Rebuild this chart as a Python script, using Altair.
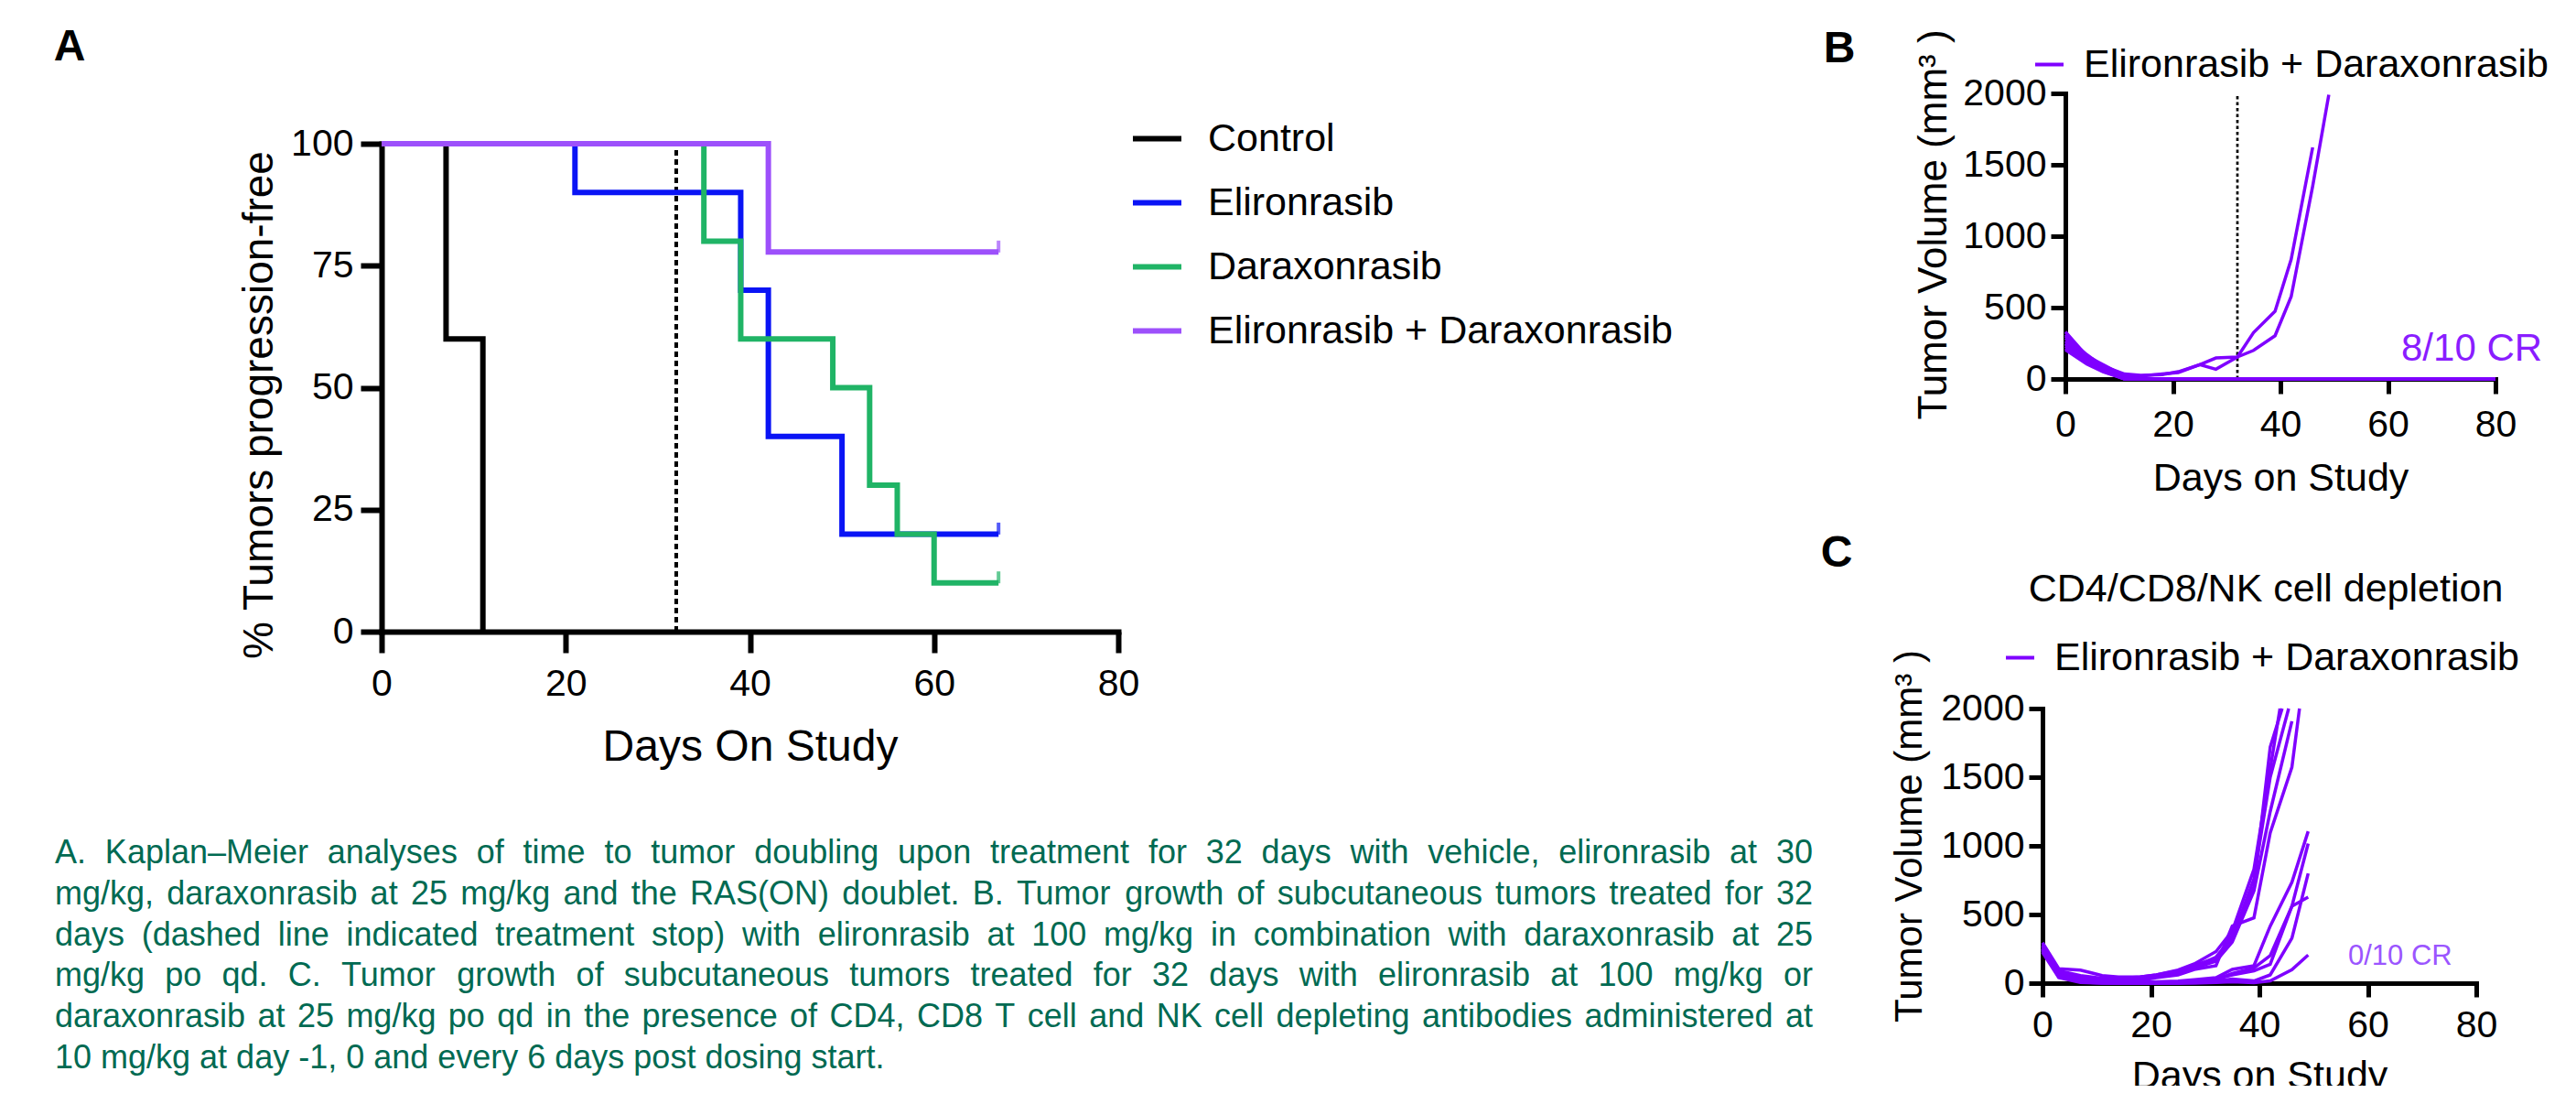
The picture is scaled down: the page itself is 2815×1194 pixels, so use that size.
import altair as alt
import pandas as pd

# ------------------------------------------------------------------
# canvas geometry (page has an 8px margin)
W, H = 2799, 1178
OX, OY = 8, 8
FONT = "Liberation Sans"

# ------------------------------------------------------------------
# Panel A : Kaplan-Meier (time to tumor doubling)
km_groups = ["Control", "Elironrasib", "Daraxonrasib", "Elironrasib + Daraxonrasib"]
km_colors = ["#000000", "#0a14f5", "#20b466", "#9d50fb"]
control_days = [0, 7, 11]
control_pct = [100, 60, 0]
eliron_days = [0, 21, 39, 42, 50, 67]
eliron_pct = [100, 90, 70, 40, 20, 20]
darax_days = [0, 35, 39, 49, 53, 56, 60, 67]
darax_pct = [100, 80, 60, 50, 30, 20, 10, 10]
combo_days = [0, 42, 67]
combo_pct = [100, 77.8, 77.8]
treatment_stop_day = 32
km_x_ticks = [0, 20, 40, 60, 80]
km_y_ticks = [0, 25, 50, 75, 100]

# ------------------------------------------------------------------
# Panel B : individual tumor volumes, combination
combo_name = "Elironrasib + Daraxonrasib"
b_days = [0, 4, 7, 11, 14, 18, 21, 25, 28, 32, 35, 39, 42, 46, 49, 56, 63, 70, 77, 80]
b_m1 = [300, 170, 90, 35, 25, 30, 51, 100, 147, 154, 325, 474, 838, 1622]
b_m2 = [250, 140, 70, 30, 20, 36, 45, 100, 68, 154, 200, 303, 577, 1350, 1990]
b_m3 = [330, 160, 100, 20, 0, 0, 0, 0, 0, 0, 0, 0, 0, 0, 0, 0, 0, 0, 0, 0]
b_m4 = [310, 155, 90, 15, 0, 0, 0, 0, 0, 0, 0, 0, 0, 0, 0, 0, 0, 0, 0, 0]
b_m5 = [285, 150, 80, 10, 0, 0, 0, 0, 0, 0, 0, 0, 0, 0, 0, 0, 0, 0, 0, 0]
b_m6 = [265, 140, 75, 5, 0, 0, 0, 0, 0, 0, 0, 0, 0, 0, 0, 0, 0, 0, 0, 0]
b_m7 = [245, 130, 70, 0, 0, 0, 0, 0, 0, 0, 0, 0, 0, 0, 0, 0, 0, 0, 0, 0]
b_m8 = [230, 120, 60, 0, 0, 0, 0, 0, 0, 0, 0, 0, 0, 0, 0, 0, 0, 0, 0, 0]
b_m9 = [215, 115, 55, 0, 0, 0, 0, 0, 0, 0, 0, 0, 0, 0, 0, 0, 0, 0, 0, 0]
b_m10 = [205, 105, 50, 0, 0, 0, 0, 0, 0, 0, 0, 0, 0, 0, 0, 0, 0, 0, 0, 0]
b_cr_label = "8/10 CR"

# ------------------------------------------------------------------
# Panel C : CD4/CD8/NK cell depletion
c_days = [0, 3, 7, 11, 14, 18, 21, 25, 28, 32, 35, 39, 42, 46, 49]
c_m1 = [295, 105, 95, 55, 45, 45, 60, 95, 140, 230, 380, 830, 1560]
c_m2 = [270, 70, 45, 30, 30, 40, 55, 80, 120, 190, 330, 760, 1500]
c_m3 = [250, 60, 25, 15, 20, 30, 45, 70, 110, 160, 300, 672, 1250, 1907]
c_m4 = [240, 55, 15, 5, 10, 20, 40, 60, 100, 127, 416, 476, 1095, 1573]
c_m5 = [280, 90, 55, 35, 35, 45, 60, 90, 130, 180, 350, 700, 1720]
c_m6 = [260, 80, 45, 25, 15, 10, 10, 15, 25, 40, 100, 127, 416, 734, 1106]
c_m7 = [235, 50, 15, 5, 0, 0, 0, 5, 10, 25, 70, 110, 200, 561, 1017]
c_m8 = [250, 45, 10, 0, 0, 0, 0, 0, 5, 15, 30, 16, 60, 327, 799]
c_m9 = [245, 60, 20, 5, 0, 0, 0, 0, 10, 30, 60, 90, 138, 561, 627]
c_m10 = [225, 40, 5, 0, 0, 0, 0, 0, 0, 5, 10, 4, 16, 98, 205]
# day at which a curve leaves the top of the 2000 mm3 axis
c_top_exit = {"m1": 43.8, "m2": 45.4, "m4": 47.4, "m5": 44.2}
c_cr_label = "0/10 CR"
c_title = "CD4/CD8/NK cell depletion"

vol_ticks = [0, 500, 1000, 1500, 2000]
day_ticks = [0, 20, 40, 60, 80]

caption_lines = [
    "A. Kaplan\u2013Meier analyses of time to tumor doubling upon treatment for 32 days with vehicle, elironrasib at 30",
    "mg/kg, daraxonrasib at 25 mg/kg and the RAS(ON) doublet. B. Tumor growth of subcutaneous tumors treated for 32",
    "days (dashed line indicated treatment stop) with elironrasib at 100 mg/kg in combination with daraxonrasib at 25",
    "mg/kg po qd. C. Tumor growth of subcutaneous tumors treated for 32 days with elironrasib at 100 mg/kg or",
    "daraxonrasib at 25 mg/kg po qd in the presence of CD4, CD8 T cell and NK cell depleting antibodies administered at",
    "10 mg/kg at day -1, 0 and every 6 days post dosing start.",
]
panel_labels = ["A", "B", "C"]

# ------------------------------------------------------------------
# tables
km_series = [(control_days, control_pct), (eliron_days, eliron_pct),
             (darax_days, darax_pct), (combo_days, combo_pct)]
km_rows = []
for g, (d, p) in zip(km_groups, km_series):
    for dd, pp in zip(d, p):
        km_rows.append({"group": g, "day": dd, "pct": pp})
km_df = pd.DataFrame(km_rows)
censor_df = pd.DataFrame([{"group": g, "day": d[-1], "pct": p[-1]}
                          for g, (d, p) in zip(km_groups, km_series) if p[-1] > 0])

b_rows = []
for name, vals in [("m1", b_m1), ("m2", b_m2), ("m3", b_m3), ("m4", b_m4), ("m5", b_m5),
                   ("m6", b_m6), ("m7", b_m7), ("m8", b_m8), ("m9", b_m9), ("m10", b_m10)]:
    for dd, v in zip(b_days, vals):
        b_rows.append({"mouse": name, "day": dd, "vol": v, "treatment": combo_name})
b_df = pd.DataFrame(b_rows)

c_rows = []
for name, vals in [("m1", c_m1), ("m2", c_m2), ("m3", c_m3), ("m4", c_m4), ("m5", c_m5),
                   ("m6", c_m6), ("m7", c_m7), ("m8", c_m8), ("m9", c_m9), ("m10", c_m10)]:
    for dd, v in zip(c_days, vals):
        c_rows.append({"mouse": name, "day": dd, "vol": v, "treatment": combo_name})
    if name in c_top_exit:
        c_rows.append({"mouse": name, "day": c_top_exit[name], "vol": 2000, "treatment": combo_name})
c_df = pd.DataFrame(c_rows)

# ------------------------------------------------------------------
# common axis style
def axis(orient, offset, values, title, tsize, tick, width, pad, tx=None, ty=None, fmt="d"):
    kw = dict(orient=orient, offset=offset, values=values, title=title, format=fmt,
              grid=False, labelFont=FONT, labelFontSize=41, labelColor="black",
              labelPadding=pad, labelFlush=False, labelOverlap=False,
              titleFont=FONT, titleFontSize=tsize, titleFontWeight="normal",
              titleColor="black", titleBaseline="alphabetic", titleAlign="center",
              tickSize=tick, tickWidth=width, tickColor="black",
              domainWidth=width, domainColor="black", domainCap="square")
    if tx is not None:
        kw["titleX"] = tx
    if ty is not None:
        kw["titleY"] = ty
    return alt.Axis(**kw)


def legend(x, y, size, offset, sym, symw, rowpad=0):
    return alt.Legend(orient="none", legendX=x - OX, legendY=y - OY, title=None, padding=0,
                      labelFont=FONT, labelFontSize=size, labelColor="black", labelOffset=offset,
                      symbolType="stroke", symbolSize=sym, symbolStrokeWidth=symw,
                      rowPadding=rowpad, labelLimit=0)

# ---------------- Panel A ----------------
def sx_a():
    return alt.Scale(domain=[0, 80], range=[417 - OX, 1222 - OX], nice=False, zero=False)


def sy_a():
    return alt.Scale(domain=[0, 100], range=[690 - OY, 157 - OY], nice=False)


def col_a():
    return alt.Scale(domain=km_groups, range=km_colors)


stop_a = alt.Chart(pd.DataFrame({"day": [treatment_stop_day], "lo": [0], "hi": [100]})).mark_rule(
    color="black", strokeWidth=4, strokeDash=[6, 4]).encode(
    x=alt.X("day:Q", scale=sx_a(), axis=None),
    y=alt.Y("lo:Q", scale=sy_a(), axis=None), y2="hi:Q")

km_lines = alt.Chart(km_df).mark_line(interpolate="step-after", strokeWidth=6).encode(
    x=alt.X("day:Q", scale=sx_a(),
            axis=axis("bottom", (690 - OY) - H, km_x_ticks, "Days On Study", 48, 23, 6, 14, ty=140)),
    y=alt.Y("pct:Q", scale=sy_a(),
            axis=axis("left", -(417 - OX), km_y_ticks, "% Tumors progression-free", 46, 23, 6, 8,
                      tx=-120, ty=442 - OY)),
    color=alt.Color("group:N", scale=col_a(), sort=km_groups,
                    legend=legend(1235, 122, 43, 26, 2809, 6, rowpad=18)),
)
censor_a = alt.Chart(censor_df).mark_tick(orient="vertical", size=13, thickness=4, yOffset=-6).encode(
    x=alt.X("day:Q", scale=sx_a(), axis=None),
    y=alt.Y("pct:Q", scale=sy_a(), axis=None),
    color=alt.Color("group:N", scale=col_a(), legend=None))

# ---------------- Panel B ----------------
def sx_b():
    return alt.Scale(domain=[0, 80], range=[2257 - OX, 2727 - OX], nice=False, zero=False)


def sy_b():
    return alt.Scale(domain=[0, 2000], range=[414 - OY, 102 - OY], nice=False)


purple = "#7f00ff"
stop_b = alt.Chart(pd.DataFrame({"day": [treatment_stop_day], "lo": [0], "hi": [2000]})).mark_rule(
    color="black", strokeWidth=2.7, strokeDash=[3.5, 3]).encode(
    x=alt.X("day:Q", scale=sx_b(), axis=None),
    y=alt.Y("lo:Q", scale=sy_b(), axis=None), y2="hi:Q")
lines_b = alt.Chart(b_df).mark_line(strokeWidth=3.5).encode(
    x=alt.X("day:Q", scale=sx_b(),
            axis=axis("bottom", (414 - OY) - H, day_ticks, "Days on Study", 43, 16, 5, 14, ty=121)),
    y=alt.Y("vol:Q", scale=sy_b(),
            axis=axis("left", -(2257 - OX), vol_ticks, "Tumor Volume (mm\u00b3 )", 44, 16, 5, 5,
                      tx=-131, ty=245 - OY)),
    color=alt.Color("treatment:N", scale=alt.Scale(domain=[combo_name], range=[purple]),
                    legend=legend(2218, 49, 43, 16, 961, 4)),
    detail="mouse:N",
)

# ---------------- Panel C ----------------
sx_c = alt.Scale(domain=[0, 80], range=[2232 - OX, 2706 - OX], nice=False, zero=False)
sy_c = alt.Scale(domain=[0, 2000], range=[1074 - OY, 774 - OY], nice=False)
lines_c = alt.Chart(c_df).mark_line(strokeWidth=3.5).encode(
    x=alt.X("day:Q", scale=sx_c,
            axis=axis("bottom", (1074 - OY) - H, day_ticks, "Days on Study", 43, 15, 5, 11, ty=114)),
    y=alt.Y("vol:Q", scale=sy_c,
            axis=axis("left", -(2232 - OX), vol_ticks, "Tumor Volume (mm\u00b3 )", 42, 15, 5, 5,
                      tx=-133, ty=913 - OY)),
    color=alt.Color("treatment:N", scale=alt.Scale(domain=[combo_name], range=[purple]),
                    legend=legend(2186, 697, 43, 16, 961, 4)),
    detail="mouse:N",
)

# ---------------- annotations ----------------
def label(text, x, y, size, color="black", weight="normal", align="left"):
    return alt.Chart(pd.DataFrame({"t": [text]})).mark_text(
        font=FONT, fontSize=size, color=color, fontWeight=weight, align=align,
        baseline="alphabetic").encode(x=alt.value(x - OX), y=alt.value(y - OY), text="t:N")


labels = [
    label(panel_labels[0], 76, 66, 48, weight="bold", align="center"),
    label(panel_labels[1], 2010, 68, 48, weight="bold", align="center"),
    label(panel_labels[2], 2007, 619, 48, weight="bold", align="center"),
    label(b_cr_label, 2624, 394, 42, color="#8a1dff"),
    label(c_cr_label, 2566, 1054, 31, color="#9b55ff"),
    label(c_title, 2476, 657, 43, align="center"),
]

# ---------------- caption (justified) ----------------
ARIAL = {" ": 278, "!": 278, "(": 333, ")": 333, ",": 278, "-": 333, ".": 278, "/": 278,
         ":": 278, ";": 278, "\u2013": 556}
for ch in "0123456789":
    ARIAL[ch] = 556
ARIAL.update(dict(zip("ABCDEFGHIJKLMNOPQRSTUVWXYZ",
                      [667, 667, 722, 722, 667, 611, 778, 722, 278, 500, 667, 556, 833, 722, 778,
                       667, 778, 722, 667, 611, 722, 667, 944, 667, 667, 611])))
ARIAL.update(dict(zip("abcdefghijklmnopqrstuvwxyz",
                      [556, 556, 500, 556, 556, 278, 556, 556, 222, 222, 500, 222, 833, 556, 556,
                       556, 556, 333, 500, 278, 556, 500, 722, 500, 500, 500])))
CAP_SIZE = 36
CAP_LEFT, CAP_RIGHT = 60, 1981
CAP_BASE, CAP_LEAD = 943, 44.8


def tw(s):
    return sum(ARIAL.get(ch, 556) for ch in s) * CAP_SIZE / 1000.0


cap_rows = []
for i, line in enumerate(caption_lines):
    words = line.split(" ")
    widths = [tw(w) for w in words]
    if i < len(caption_lines) - 1:
        gap = (CAP_RIGHT - CAP_LEFT - sum(widths)) / (len(words) - 1)
    else:
        gap = tw(" ")
    x = CAP_LEFT
    for w, wd in zip(words, widths):
        cap_rows.append({"word": w, "px": x - OX, "py": CAP_BASE + i * CAP_LEAD - OY})
        x += wd + gap
caption = alt.Chart(pd.DataFrame(cap_rows)).mark_text(
    font=FONT, fontSize=CAP_SIZE, color="#006a52", align="left", baseline="alphabetic").encode(
    x=alt.X("px:Q", scale=None, axis=None), y=alt.Y("py:Q", scale=None, axis=None), text="word:N")

chart = alt.layer(
    stop_a, km_lines, censor_a, stop_b, lines_b, lines_c, caption, *labels
).resolve_scale(
    x="independent", y="independent", color="independent"
).properties(
    width=W, height=H, autosize=alt.AutoSizeParams(type="none"), padding=0
).configure_view(stroke=None)

chart.save("out.html", embed_options={"renderer": "svg", "actions": False})
